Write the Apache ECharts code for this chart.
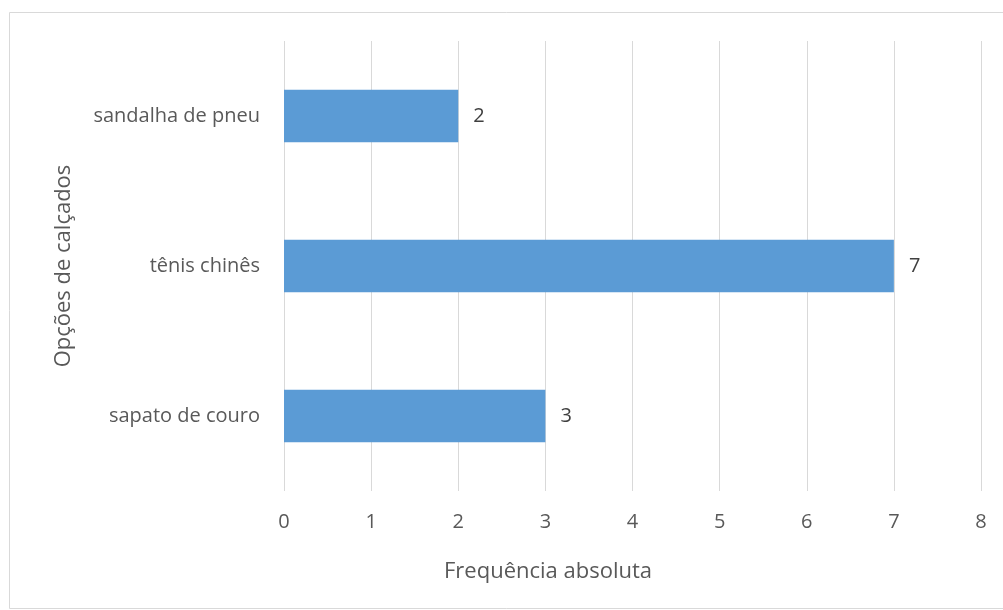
<!DOCTYPE html>
<html>
<head>
<meta charset="utf-8">
<script src="https://cdn.jsdelivr.net/npm/echarts@6/dist/echarts.min.js"></script>
<style>
  html, body { margin: 0; padding: 0; background: #ffffff; }
  #chart { width: 1003px; height: 610px; }
</style>
</head>
<body>
<div id="chart"></div>
<script>
// Footwear options and how often each was chosen
const categories = ['sapato de couro', 'tênis chinês', 'sandalha de pneu'];
const frequencies = [3, 7, 2];
const xTicks = [0, 1, 2, 3, 4, 5, 6, 7, 8];

const FONT = 'Open Sans';
const TEXT = '#595959';

const chart = echarts.init(document.getElementById('chart'), null, { renderer: 'canvas' });

chart.setOption({
  animation: false,
  backgroundColor: '#ffffff',
  textStyle: { fontFamily: FONT },
  graphic: [
    {
      type: 'rect',
      shape: { x: 9.5, y: 12.5, width: 1003, height: 596 },
      style: { fill: 'none', stroke: '#d9d9d9', lineWidth: 1 },
      silent: true
    },
    {
      type: 'text',
      x: 444,
      y: 572,
      style: {
        text: 'Frequência absoluta',
        fill: TEXT,
        font: '22px "' + FONT + '"',
        verticalAlign: 'middle'
      }
    }
  ],
  grid: { left: 284, right: 22, top: 41, bottom: 119, containLabel: false },
  xAxis: {
    type: 'value',
    min: xTicks[0],
    max: xTicks[xTicks.length - 1],
    interval: 1,
    axisLine: { show: false },
    axisTick: { show: false },
    axisLabel: { color: TEXT, fontSize: 20, margin: 21, fontFamily: FONT },
    splitLine: { show: true, lineStyle: { color: '#d9d9d9', width: 1 } }
  },
  yAxis: {
    type: 'category',
    data: categories,
    name: 'Opções de calçados',
    nameLocation: 'middle',
    nameGap: 209,
    nameRotate: 90,
    nameTextStyle: { color: TEXT, fontSize: 22, fontFamily: FONT },
    axisLine: { show: false },
    axisTick: { show: false },
    axisLabel: { color: TEXT, fontSize: 20, margin: 24, fontFamily: FONT },
    splitLine: { show: false }
  },
  series: [{
    type: 'bar',
    data: frequencies,
    barWidth: '35%',
    itemStyle: { color: '#5b9bd5' },
    label: {
      show: true,
      position: 'right',
      distance: 15,
      color: '#404040',
      fontSize: 20,
      fontFamily: FONT
    }
  }]
});
</script>
</body>
</html>
